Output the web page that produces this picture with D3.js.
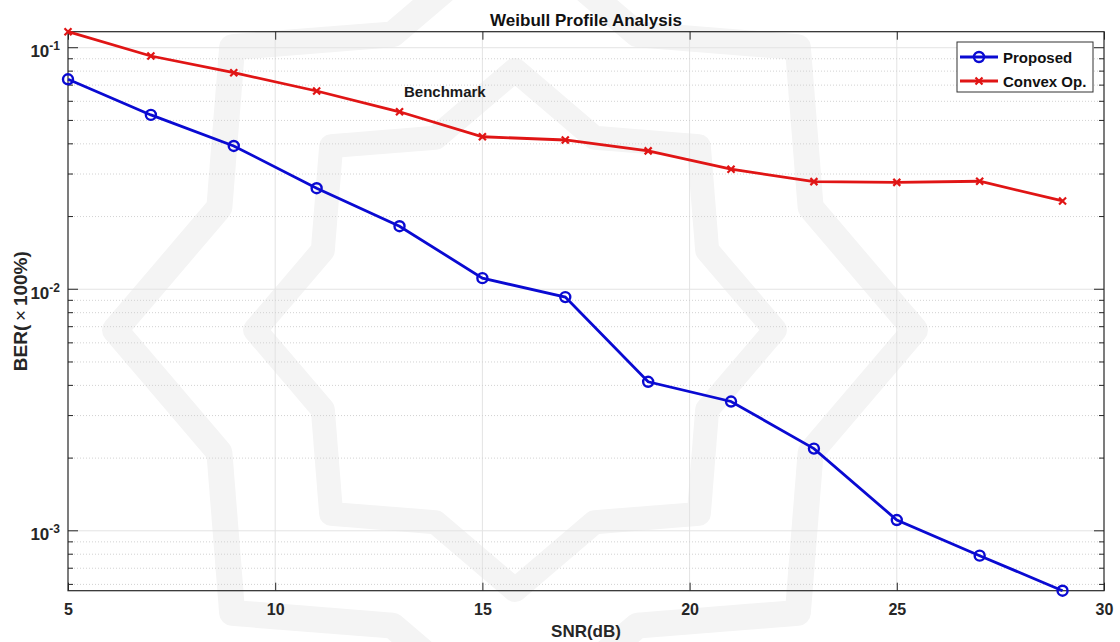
<!DOCTYPE html>
<html>
<head>
<meta charset="utf-8">
<script src="https://cdn.jsdelivr.net/npm/d3@7"></script>
<style>
  body { margin: 0; background: #fff; }
  text { font-family: Arial, "Liberation Sans", sans-serif; }
</style>
</head>
<body>
<div id="chart"></div>
<script>
// data
var snr = [5, 7, 9, 11, 13, 15, 17, 19, 21, 23, 25, 27, 29];
var proposed = [0.0740, 0.0527, 0.0392, 0.0262, 0.01824, 0.01112, 0.00928, 0.00414, 0.00343, 0.00219, 0.001108, 0.000789, 0.000565];
var convex = [0.1165, 0.0924, 0.0788, 0.0662, 0.0543, 0.0428, 0.0415, 0.0374, 0.0314, 0.0279, 0.0277, 0.0280, 0.0232];
var xTicks = [5, 10, 15, 20, 25, 30];
var yDecades = [1e-3, 1e-2, 1e-1];
var yExponents = ["-3", "-2", "-1"];
var seriesNames = ["Proposed", "Convex Op."];

var W = 1120, H = 642;
var pLeft = 68, pRight = 1104, pTop = 31.7, pBottom = 590.7;
var axisColor = "#262626";

var svg = d3.select("#chart").append("svg")
    .attr("width", W).attr("height", H);

// faint watermark behind everything
var wm = svg.append("g").attr("fill", "none").attr("stroke", "#f4f4f4");
function star(cx, cy, R) {
  var pts = [];
  for (var i = 0; i < 16; i++) {
    var a = i * Math.PI / 8;
    var r = (i % 2 === 0) ? R : R * 0.8;
    pts.push([cx + r * Math.cos(a), cy + r * Math.sin(a)]);
  }
  return pts;
}
[[400, 26], [260, 24]].forEach(function(d) {
  wm.append("polygon")
    .attr("points", star(515, 330, d[0]).map(function(p) { return p.join(","); }).join(" "))
    .attr("stroke-width", d[1]).attr("stroke-linejoin", "round");
});

var x = d3.scaleLinear().domain([5, 30]).range([pLeft, pRight]);
var allVals = proposed.concat(convex);
var y = d3.scaleLog().domain(d3.extent(allVals)).range([pBottom, pTop]);

// minor values inside the domain
var yMinor = [];
[-4, -3, -2, -1].forEach(function(e) {
  for (var k = 2; k <= 9; k++) {
    var v = k * Math.pow(10, e);
    if (v >= y.domain()[0] && v <= y.domain()[1]) yMinor.push(v);
  }
});

// grid
var grid = svg.append("g");
grid.selectAll(".vgrid").data(xTicks.slice(1, -1)).enter().append("line")
    .attr("x1", function(d) { return x(d); }).attr("x2", function(d) { return x(d); })
    .attr("y1", pTop).attr("y2", pBottom)
    .style("stroke", "#e3e3e3").style("stroke-width", 1);
grid.selectAll(".hgrid").data(yDecades).enter().append("line")
    .attr("x1", pLeft).attr("x2", pRight)
    .attr("y1", function(d) { return y(d); }).attr("y2", function(d) { return y(d); })
    .style("stroke", "#e3e3e3").style("stroke-width", 1);
grid.selectAll(".mgrid").data(yMinor).enter().append("line")
    .attr("x1", pLeft).attr("x2", pRight)
    .attr("y1", function(d) { return y(d); }).attr("y2", function(d) { return y(d); })
    .style("stroke", "#d2d2d2").style("stroke-width", 1).style("stroke-dasharray", "1,2");

// box
svg.append("rect").attr("x", pLeft).attr("y", pTop)
   .attr("width", pRight - pLeft).attr("height", pBottom - pTop)
   .attr("fill", "none").style("stroke", axisColor).style("stroke-width", 1.2);

// x axis ticks (bottom + top) and labels
var xb = svg.append("g").attr("transform", "translate(0," + pBottom + ")")
    .call(d3.axisBottom(x).tickValues(xTicks).tickSizeInner(-8).tickSizeOuter(0).tickPadding(13));
var xt = svg.append("g").attr("transform", "translate(0," + pTop + ")")
    .call(d3.axisTop(x).tickValues(xTicks).tickSizeInner(-8).tickSizeOuter(0).tickFormat(""));
[xb, xt].forEach(function(g) {
  g.select(".domain").remove();
  g.selectAll("line").style("stroke", axisColor);
});
xb.selectAll("text").style("font-size", "16px").style("font-weight", "bold")
  .attr("fill", axisColor).attr("dy", "0.71em");

// y ticks, both sides
var yTickData = yDecades.map(function(d) { return {v: d, len: 10}; })
  .concat(yMinor.map(function(d) { return {v: d, len: 5}; }));
svg.selectAll(".ytl").data(yTickData).enter().append("line")
   .attr("x1", pLeft).attr("x2", function(d) { return pLeft + d.len; })
   .attr("y1", function(d) { return y(d.v); }).attr("y2", function(d) { return y(d.v); })
   .style("stroke", axisColor);
svg.selectAll(".ytr").data(yTickData).enter().append("line")
   .attr("x1", pRight).attr("x2", function(d) { return pRight - d.len; })
   .attr("y1", function(d) { return y(d.v); }).attr("y2", function(d) { return y(d.v); })
   .style("stroke", axisColor);

var ylab = svg.selectAll(".ylab").data(yDecades).enter().append("text")
   .attr("x", 60).attr("y", function(d) { return y(d) + 9.5; })
   .attr("text-anchor", "end").attr("fill", axisColor)
   .style("font-weight", "bold");
ylab.append("tspan").style("font-size", "17px").text("10");
ylab.append("tspan").style("font-size", "12px").attr("dy", -7)
    .text(function(d, i) { return yExponents[i]; });

// titles
svg.append("text").attr("x", (pLeft + pRight) / 2).attr("y", 26)
   .attr("text-anchor", "middle").style("font-size", "17px").style("font-weight", "bold")
   .attr("fill", "#111").text("Weibull Profile Analysis");
svg.append("text").attr("x", (pLeft + pRight) / 2).attr("y", 637)
   .attr("text-anchor", "middle").style("font-size", "17px").style("font-weight", "bold")
   .attr("fill", axisColor).text("SNR(dB)");
var yt = svg.append("text")
   .attr("transform", "translate(27," + ((pTop + pBottom) / 2) + ") rotate(-90)")
   .attr("text-anchor", "middle").style("font-size", "19px").style("font-weight", "bold")
   .attr("fill", axisColor);
yt.append("tspan").text("BER(");
yt.append("tspan").style("font-weight", "normal").text("\u2009\u00d7\u2009");
yt.append("tspan").text("100%)");

svg.append("text").attr("x", 404).attr("y", 97)
   .style("font-size", "15px").style("font-weight", "bold").attr("fill", "#1a1a1a")
   .text("Benchmark");

// series
var blue = "#0a0ad2", red = "#e01515";
var line = d3.line()
  .x(function(d, i) { return x(snr[i]); })
  .y(function(d) { return y(d); });

svg.append("path").datum(convex).attr("d", line)
   .attr("fill", "none").style("stroke", red).style("stroke-width", 2.8);
svg.append("path").datum(proposed).attr("d", line)
   .attr("fill", "none").style("stroke", blue).style("stroke-width", 2.8);

function cross(g, cx, cy, s, col) {
  g.append("path")
   .attr("d", "M" + (cx - s) + "," + (cy - s) + "L" + (cx + s) + "," + (cy + s) +
              "M" + (cx - s) + "," + (cy + s) + "L" + (cx + s) + "," + (cy - s))
   .style("stroke", col).style("stroke-width", 2.2);
}
var redMarks = svg.append("g");
convex.forEach(function(v, i) { cross(redMarks, x(snr[i]), y(v), 3.5, red); });

svg.selectAll("circle.prop").data(proposed).enter().append("circle")
   .attr("cx", function(d, i) { return x(snr[i]); })
   .attr("cy", function(d) { return y(d); })
   .attr("r", 5).attr("fill", "none")
   .style("stroke", blue).style("stroke-width", 2.4);

// legend
var lg = svg.append("g");
lg.append("rect").attr("x", 957).attr("y", 42).attr("width", 136).attr("height", 50)
  .attr("fill", "#fff").style("stroke", "#333").style("stroke-width", 1);
var cols = [blue, red];
seriesNames.forEach(function(name, i) {
  var ly = 57 + i * 24;
  lg.append("line").attr("x1", 960).attr("x2", 998).attr("y1", ly).attr("y2", ly)
    .style("stroke", cols[i]).style("stroke-width", 2.8);
  if (i === 0) {
    lg.append("circle").attr("cx", 979).attr("cy", ly).attr("r", 5)
      .attr("fill", "none").style("stroke", blue).style("stroke-width", 2.4);
  } else {
    cross(lg, 979, ly, 3.5, red);
  }
  lg.append("text").attr("x", 1003).attr("y", ly + 5.5)
    .style("font-size", "15px").style("font-weight", "bold").attr("fill", "#111")
    .text(name);
});
</script>
</body>
</html>
